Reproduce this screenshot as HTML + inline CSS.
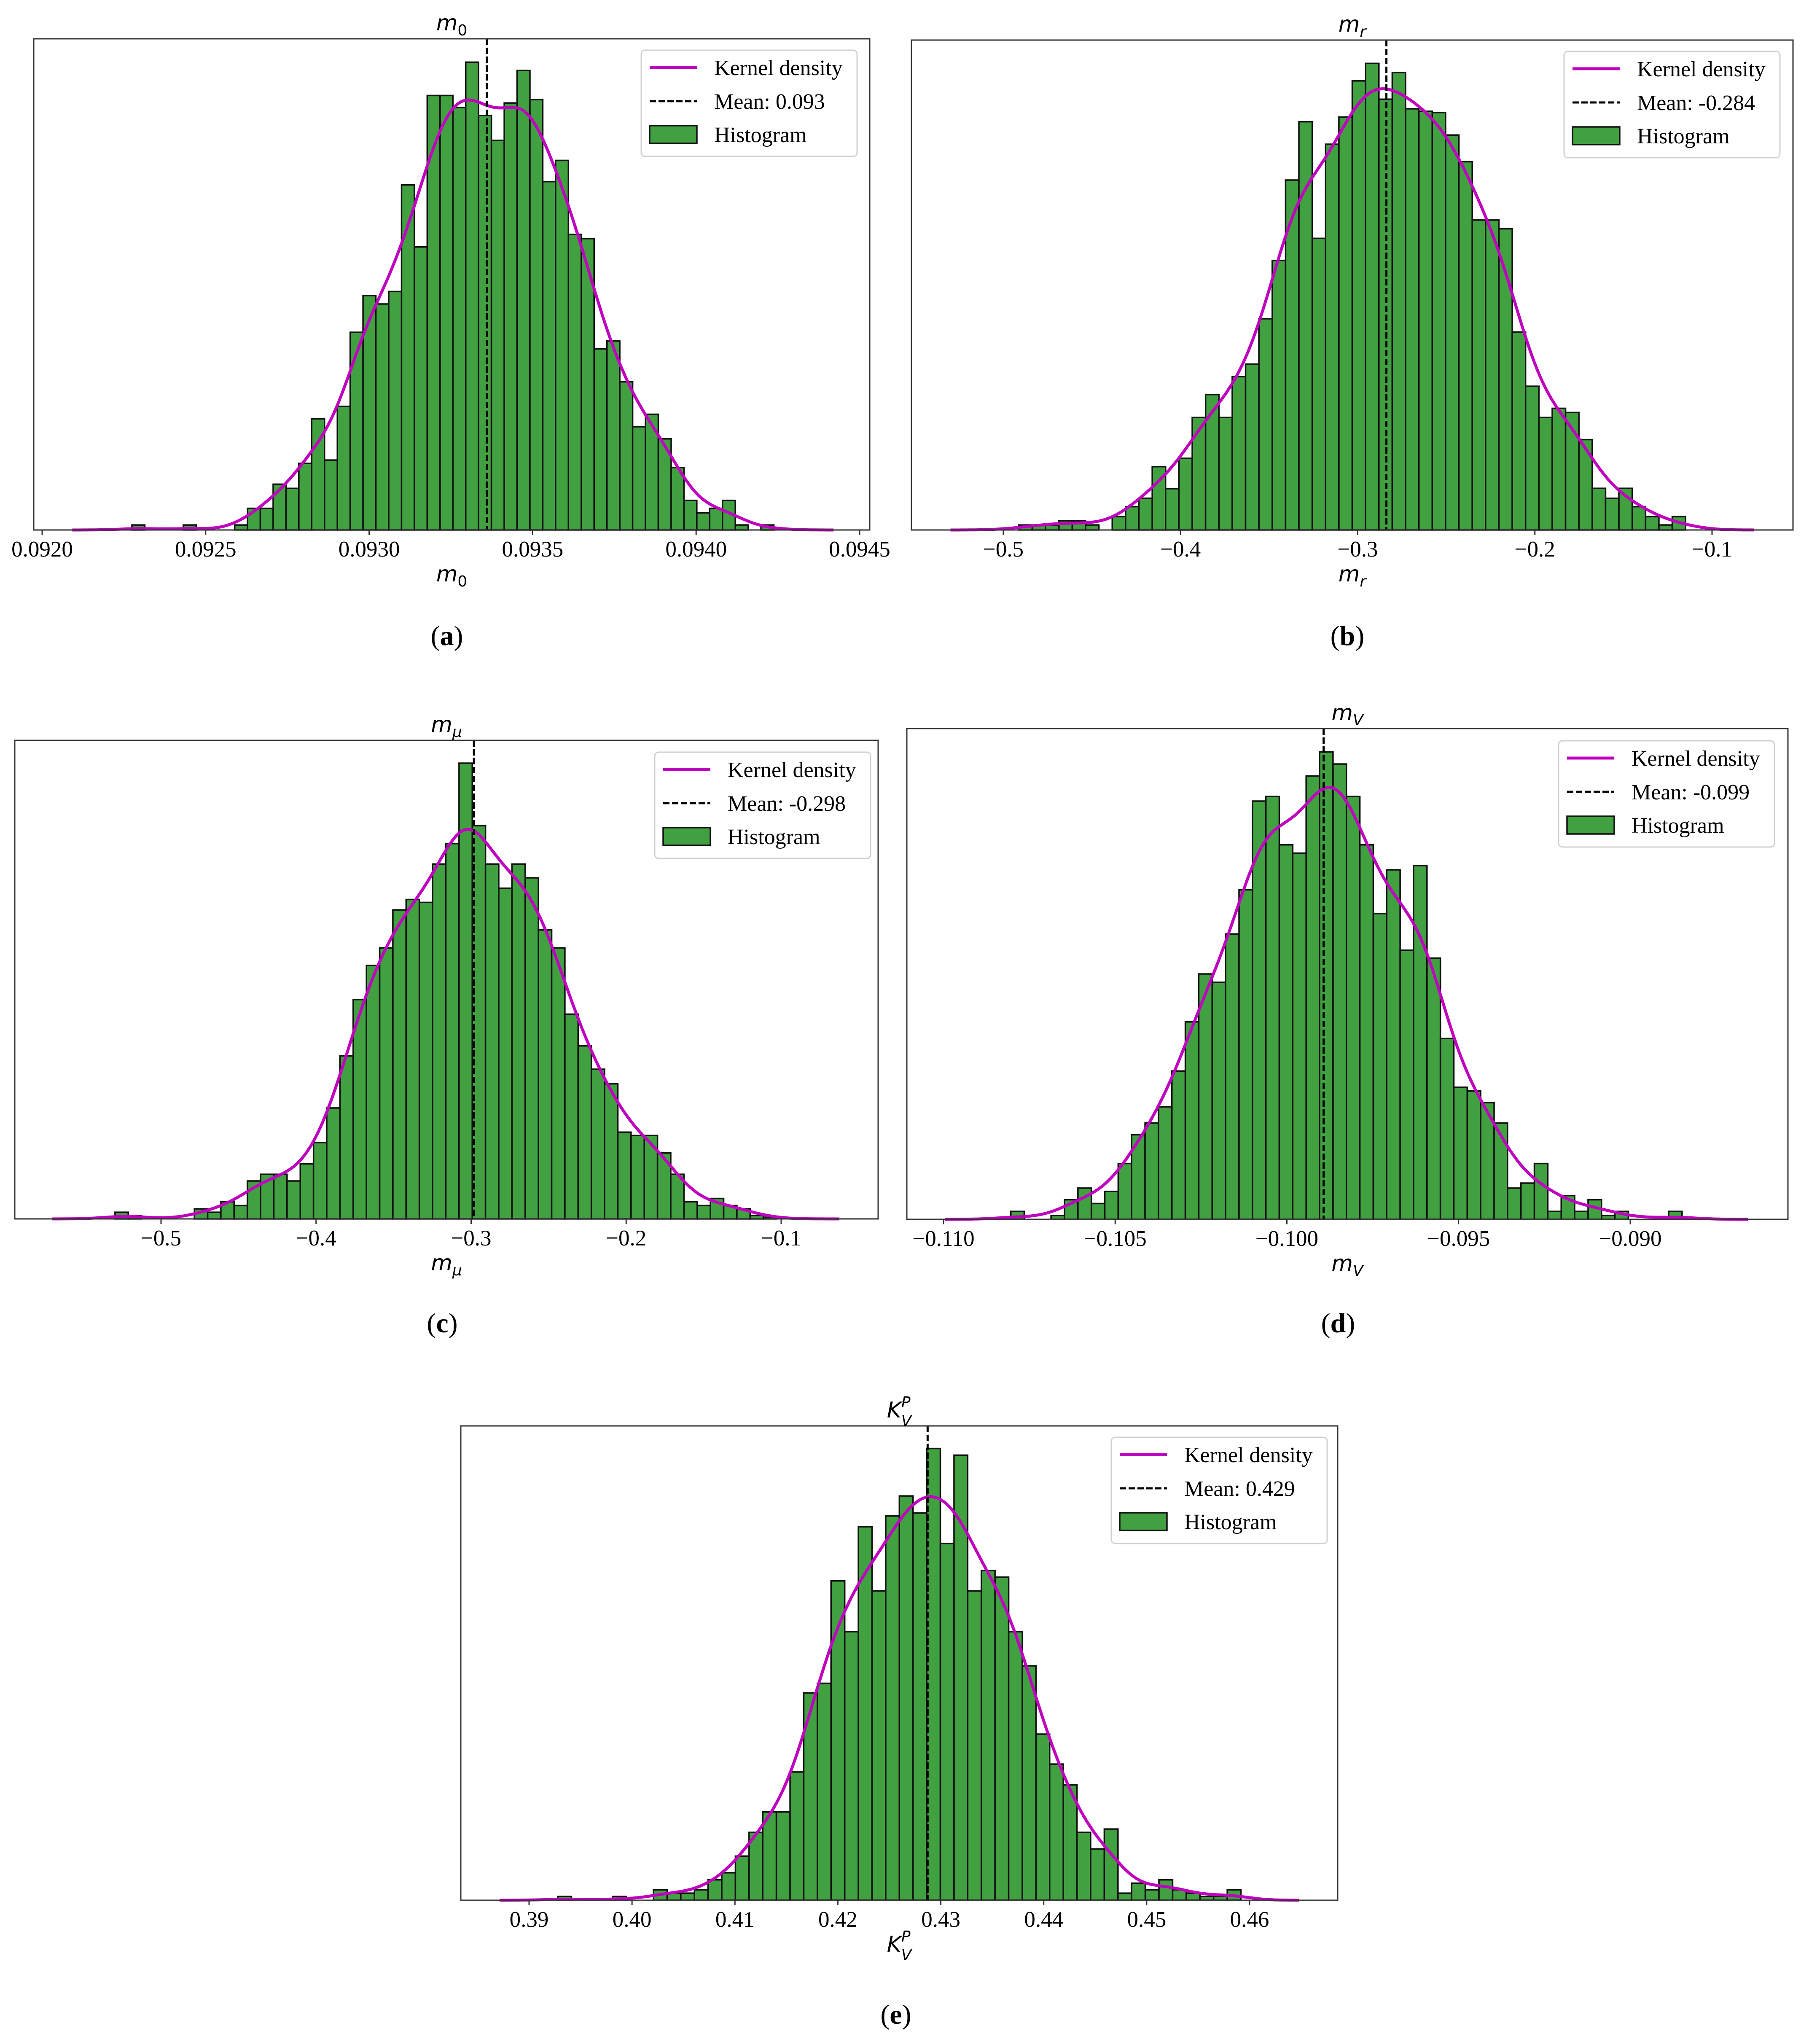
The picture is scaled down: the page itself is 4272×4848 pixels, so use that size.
<!DOCTYPE html>
<html>
<head>
<meta charset="utf-8">
<style>
html,body{margin:0;padding:0;background:#fff;}
svg{display:block;}
</style>
</head>
<body>
<svg id="fig" xmlns="http://www.w3.org/2000/svg" width="4272" height="4848" viewBox="0 0 4272 4848">
<rect x="0" y="0" width="4272" height="4848" fill="#ffffff"/>
</svg>
<script>
// ---------- DATA (counts per bin, data range, kde bandwidth in bins, ticks, mean) ----------
const aCounts = [12,0,0,0,12,0,0,0,12,52,52,110,100,160,267,168,297,475,563,543,573,829,680,1044,1044,1015,1124,996,936,1026,1104,1034,837,888,710,700,435,454,356,248,278,219,150,71,41,52,71,12,0,12];
const aRange = [0.0922746, 0.0942377];
const aTicks = [0.0920, 0.0925, 0.0930, 0.0935, 0.0940, 0.0945];
const aTickLabels = ["0.0920","0.0925","0.0930","0.0935","0.0940","0.0945"];
const aMean = 0.09336;

const bCounts = [12,12,12,22,22,12,0,32,56,76,152,99,172,270,325,270,368,398,507,647,840,980,700,926,991,1078,1120,1034,1098,1011,1005,1002,948,884,744,744,723,475,345,270,292,282,217,100,76,100,56,32,12,32];
const bRange = [-0.49123, -0.11494];
const bTicks = [-0.5, -0.4, -0.3, -0.2, -0.1];
const bTickLabels = ["\u22120.5","\u22120.4","\u22120.3","\u22120.2","\u22120.1"];
const bMean = -0.2838;

const cCounts = [16,8,0,0,0,0,24,16,41,32,91,107,107,91,132,183,266,391,526,608,650,741,766,759,851,900,1093,943,851,793,851,818,693,650,491,415,359,324,208,200,200,158,107,41,32,49,32,24,8,4];
const cRange = [-0.52968, -0.10297];
const cTicks = [-0.5, -0.4, -0.3, -0.2, -0.1];
const cTickLabels = ["\u22120.5","\u22120.4","\u22120.3","\u22120.2","\u22120.1"];
const cMean = -0.2982;

const dCounts = [19,0,0,9,47,75,38,67,134,203,231,270,356,474,589,569,685,791,1004,1015,899,879,1064,1122,1093,1015,899,734,839,646,849,627,434,317,308,280,231,75,87,134,19,57,19,47,9,19,0,0,0,19];
const dRange = [-0.10804, -0.088492];
const dTicks = [-0.110, -0.105, -0.100, -0.095, -0.090];
const dTickLabels = ["\u22120.110","\u22120.105","\u22120.100","\u22120.095","\u22120.090"];
const dMean = -0.09893;

const eCounts = [9,0,0,0,9,0,0,25,17,17,25,49,66,106,163,212,212,308,498,521,767,645,897,743,923,971,930,1085,857,1069,743,792,776,645,563,399,327,277,163,123,171,17,41,25,49,25,17,9,9,25];
const eRange = [0.39279, 0.45916];
const eTicks = [0.39, 0.40, 0.41, 0.42, 0.43, 0.44, 0.45, 0.46];
const eTickLabels = ["0.39","0.40","0.41","0.42","0.43","0.44","0.45","0.46"];
const eMean = 0.42872;

const bandwidthBins = [1.55, 1.71, 1.58, 1.64, 1.42];

// ---------- LAYOUT ----------
const NS = 'http://www.w3.org/2000/svg';
const svg = document.getElementById('fig');
const SERIF = '"Liberation Serif", "DejaVu Serif", serif';
const MATH = '"DejaVu Sans", "Liberation Sans", sans-serif';

function mk(tag, attrs, parent) {
  const el = document.createElementNS(NS, tag);
  for (const k in attrs) el.setAttribute(k, attrs[k]);
  (parent || svg).appendChild(el);
  return el;
}

function mathLabel(parent, x, y, base, sub, sup, name) {
  const t = mk('text', {x: x, y: y, 'text-anchor': 'middle', 'font-family': MATH, 'font-style': 'italic', 'font-size': 52, fill: '#000'}, parent);
  
  
  const b = mk('tspan', {}, t);
  b.textContent = base;
  if (sup) {
    const s1 = mk('tspan', {'font-size': 36, dy: -24}, t);
    s1.textContent = sup;
    const s2 = mk('tspan', {'font-size': 36, dx: -22, dy: 44, 'font-style': sub === '0' ? 'normal' : 'italic'}, t);
    s2.textContent = sub;
  } else {
    const s = mk('tspan', {'font-size': 36, dy: 12, 'font-style': sub === '0' ? 'normal' : 'italic'}, t);
    s.textContent = sub;
  }
  return t;
}

function drawPanel(cfg, counts, range, bwBins, ticks, tickLabels, mean) {
  const g = mk('g', {});
  
  

  const n = counts.length;
  const binW = (range[1] - range[0]) / n;
  const xs = v => cfg.px0 + (v - cfg.v0) * (cfg.px1 - cfg.px0) / (cfg.v1 - cfg.v0);
  const bw = bwBins * binW;
  const kde = x => {
    let s = 0;
    for (let k = 0; k < n; k++) {
      const c = range[0] + (k + 0.5) * binW;
      const z = (x - c) / bw;
      s += counts[k] * binW * Math.exp(-0.5 * z * z) / (bw * Math.sqrt(2 * Math.PI));
    }
    return s;
  };
  const kx = [];
  const lo = range[0] - 3 * bw, hi = range[1] + 3 * bw;
  for (let i = 0; i <= 300; i++) kx.push(lo + (hi - lo) * i / 300);
  const ky = kx.map(kde);
  const ymax = Math.max(Math.max(...counts), Math.max(...ky)) * 1.05;
  const ys = c => cfg.bottom - c / ymax * (cfg.bottom - cfg.top);

  const bars = mk('g', {}, g);
  
  
  for (let k = 0; k < n; k++) {
    if (counts[k] <= 0) continue;
    const x0 = xs(range[0] + k * binW), x1 = xs(range[0] + (k + 1) * binW);
    const r = mk('rect', {x: x0, y: ys(counts[k]), width: x1 - x0, height: cfg.bottom - ys(counts[k]), fill: '#41a141', stroke: '#111', 'stroke-width': 3.5}, bars);
    
    
  }
  let d = '';
  for (let i = 0; i < kx.length; i++) d += (i ? 'L' : 'M') + xs(kx[i]).toFixed(1) + ' ' + ys(ky[i]).toFixed(1);
  const kp = mk('path', {d: d, fill: 'none', stroke: '#bf00bf', 'stroke-width': 7, 'stroke-linejoin': 'round'}, g);
  
  
  const ml = mk('line', {x1: xs(mean), x2: xs(mean), y1: cfg.top, y2: cfg.bottom, stroke: '#000', 'stroke-width': 5, 'stroke-dasharray': '15,6'}, g);
  
  
  const fr = mk('rect', {x: cfg.left, y: cfg.top, width: cfg.right - cfg.left, height: cfg.bottom - cfg.top, fill: 'none', stroke: '#333', 'stroke-width': 3}, g);
  
  
  const tg = mk('g', {}, g);
  
  
  for (let i = 0; i < ticks.length; i++) {
    const x = xs(ticks[i]);
    const tl = mk('line', {x1: x, x2: x, y1: cfg.bottom, y2: cfg.bottom + 12, stroke: '#333', 'stroke-width': 3}, tg);
    
    
    const tt = mk('text', {x: x, y: cfg.bottom + 63, 'text-anchor': 'middle', 'font-family': SERIF, 'font-size': 53, fill: '#000'}, tg);
    
    
    tt.textContent = tickLabels[i];
  }
  const cx = (cfg.left + cfg.right) / 2;
  mathLabel(g, cx, cfg.top - 20, cfg.base, cfg.sub, cfg.sup, 'panel-title');
  mathLabel(g, cx, cfg.bottom + 122, cfg.base, cfg.sub, cfg.sup, 'x-axis-title');

  const lg = mk('g', {}, g);
  
  
  const L = cfg.legX, T = cfg.legY;
  mk('rect', {x: L, y: T, width: 512, height: 252, rx: 9, fill: '#fff', 'fill-opacity': 0.8, stroke: '#d0d0d0', 'stroke-width': 3}, lg);
  const rows = [41, 121, 200];
  const e1 = mk('line', {x1: L + 20, x2: L + 132, y1: T + rows[0], y2: T + rows[0], stroke: '#bf00bf', 'stroke-width': 7}, lg);
  
  
  const e2 = mk('line', {x1: L + 20, x2: L + 132, y1: T + rows[1], y2: T + rows[1], stroke: '#000', 'stroke-width': 5, 'stroke-dasharray': '15,6'}, lg);
  
  
  const e3 = mk('rect', {x: L + 20, y: T + rows[2] - 21, width: 112, height: 42, fill: '#41a141', stroke: '#111', 'stroke-width': 3.5}, lg);
  
  
  const labels = ['Kernel density', 'Mean: ' + mean.toFixed(3), 'Histogram'];
  for (let i = 0; i < 3; i++) {
    const t = mk('text', {x: L + 173, y: T + rows[i] + 18, 'font-family': SERIF, 'font-size': 52, fill: '#000'}, lg);
    
    
    t.textContent = labels[i];
  }
  const cap = mk('text', {x: cfg.capX, y: cfg.capY, 'text-anchor': 'middle', 'font-family': SERIF, 'font-size': 66, fill: '#000'}, g);
  
  
  const t1 = mk('tspan', {}, cap); t1.textContent = '(';
  const t2 = mk('tspan', {'font-weight': 'bold'}, cap); t2.textContent = cfg.id;
  const t3 = mk('tspan', {}, cap); t3.textContent = ')';
}

const cfgA = {id:'a', left:80, right:2063, top:92, bottom:1257, px0:100, v0:0.0920, px1:2039, v1:0.0945, base:'m', sub:'0', legX:1521, legY:119, capX:1060, capY:1530};
const cfgB = {id:'b', left:2162, right:4253, top:95, bottom:1257, px0:2380, v0:-0.5, px1:4061, v1:-0.1, base:'m', sub:'r', legX:3710, legY:122, capX:3196, capY:1530};
const cfgC = {id:'c', left:35, right:2083, top:1756, bottom:2891, px0:382, v0:-0.5, px1:1853, v1:-0.1, base:'m', sub:'\u03bc', legX:1553, legY:1784, capX:1049, capY:3160};
const cfgD = {id:'d', left:2151, right:4241, top:1728, bottom:2892, px0:2238, v0:-0.110, px1:3867, v1:-0.090, base:'m', sub:'V', legX:3697, legY:1757, capX:3174, capY:3160};
const cfgE = {id:'e', left:1093, right:3173, top:3382, bottom:4507, px0:1255, v0:0.39, px1:2964, v1:0.46, base:'K', sub:'V', sup:'P', legX:2636, legY:3409, capX:2125, capY:4800};

drawPanel(cfgA, aCounts, aRange, bandwidthBins[0], aTicks, aTickLabels, aMean);
drawPanel(cfgB, bCounts, bRange, bandwidthBins[1], bTicks, bTickLabels, bMean);
drawPanel(cfgC, cCounts, cRange, bandwidthBins[2], cTicks, cTickLabels, cMean);
drawPanel(cfgD, dCounts, dRange, bandwidthBins[3], dTicks, dTickLabels, dMean);
drawPanel(cfgE, eCounts, eRange, bandwidthBins[4], eTicks, eTickLabels, eMean);
</script>
</body>
</html>
